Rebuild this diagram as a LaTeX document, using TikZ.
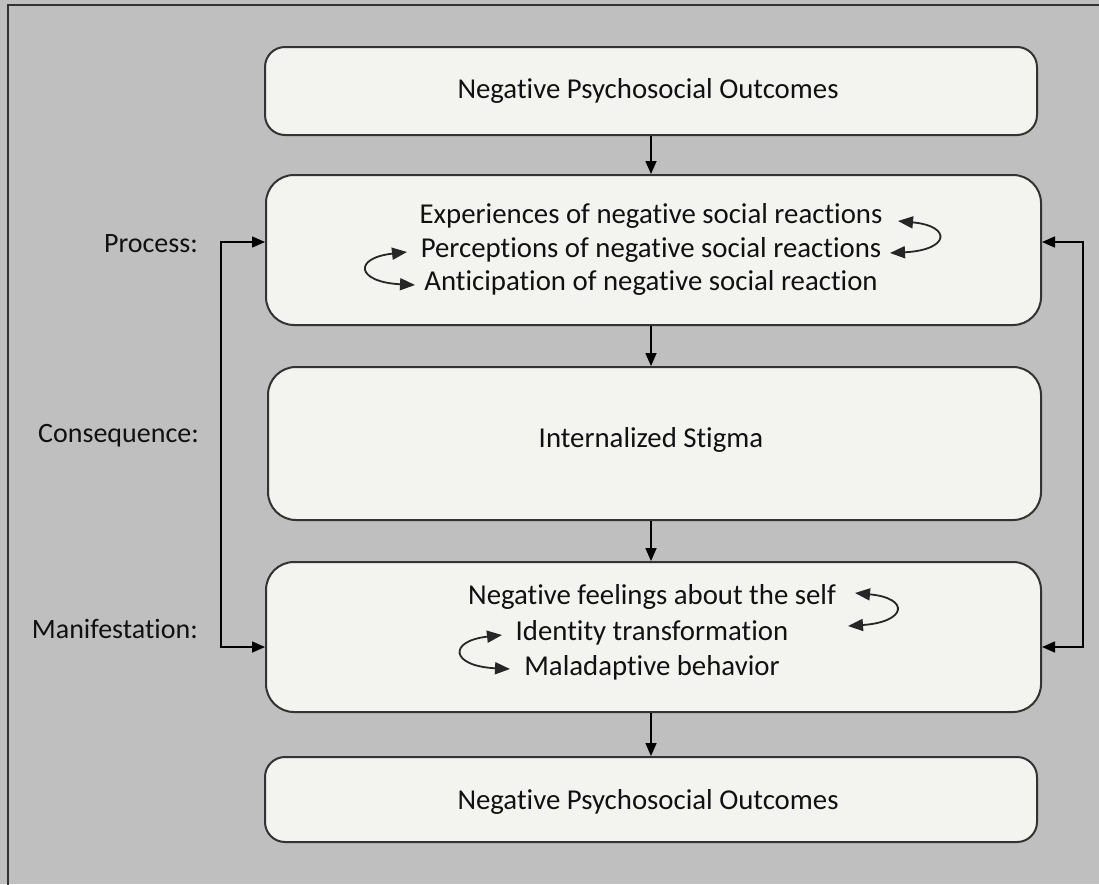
\documentclass[tikz,border=0pt]{standalone}
\usepackage{fontspec}
\setmainfont{Carlito}[RawFeature={-liga;-clig;-dlig}]
\usetikzlibrary{arrows.meta}
\definecolor{bggray}{HTML}{BFBFBF}
\definecolor{boxfill}{HTML}{F3F3F0}
\definecolor{linecol}{HTML}{333333}
\definecolor{txt}{HTML}{111111}
\begin{document}
\begin{tikzpicture}[x=1pt,y=-1pt,
  stagebox/.style={draw=linecol,line width=2pt,fill=boxfill,rounded corners=#1,inner sep=0pt},
  stagebox/.default=28pt,
  txtline/.style={anchor=base,inner sep=0pt,text=txt,font=\fontsize{28.8}{33}\selectfont},
  lbl/.style={anchor=base east,inner sep=0pt,text=txt,font=\fontsize{28}{33}\selectfont},
  arr/.style={draw=black,line width=1.5pt,-{Triangle[length=13pt,width=11pt]}},
  darr/.style={draw=black,line width=1.5pt,{Triangle[length=13pt,width=11pt]}-{Triangle[length=13pt,width=11pt]}},
  curv/.style={draw=black!85,line width=1.8pt,{Triangle[length=15pt,width=12pt]}-{Triangle[length=15pt,width=12pt]}}]
\useasboundingbox (0,0) rectangle (1099,884);
\fill[bggray] (0,0) rectangle (1099,884);
\draw[linecol,line width=2pt] (8,1000) -- (8,5) -- (1200,5);
% boxes
\node[stagebox=20pt,minimum width=772pt,minimum height=88pt] (b1) at (651,91) {};
\node[stagebox,minimum width=775pt,minimum height=150pt] (b2) at (653.5,250) {};
\node[stagebox,minimum width=773pt,minimum height=153pt] (b3) at (654.5,443.5) {};
\node[stagebox,minimum width=775pt,minimum height=150pt] (b4) at (653.5,637) {};
\node[stagebox=20pt,minimum width=772pt,minimum height=85pt] (b5) at (651,799.5) {};
% texts
\node[txtline] (t1) at (648,98) {Negative Psychosocial Outcomes};
\node[txtline] (p1) at (651,223) {Experiences of negative social reactions};
\node[txtline] (p2) at (651,257) {Perceptions of negative social reactions};
\node[txtline] (p3) at (651,290) {Anticipation of negative social reaction};
\node[txtline] (t3) at (651,447) {Internalized Stigma};
\node[txtline] (m1) at (652,604) {Negative feelings about the self};
\node[txtline] (m2) at (652,640) {Identity transformation};
\node[txtline] (m3) at (652,675) {Maladaptive behavior};
\node[txtline] (t5) at (648,809) {Negative Psychosocial Outcomes};
% labels
\node[lbl] (lp) at (198,252) {Process:};
\node[lbl] (lc) at (199,442) {Consequence:};
\node[lbl] (lm) at (198,638) {Manifestation:};
% vertical arrows
\draw[arr] (b1.south) -- (b1.south |- b2.north);
\draw[arr] (b1.south |- b2.south) -- (b1.south |- b3.north);
\draw[arr] (b1.south |- b3.south) -- (b1.south |- b4.north);
\draw[arr] (b1.south |- b4.south) -- (b1.south |- b5.north);
% feedback loops
\coordinate (la) at (221,242);
\coordinate (lb) at (221,647);
\coordinate (ra) at (1083,242);
\coordinate (rb) at (1083,647);
\draw[darr] (la -| b2.west) -- (la) -- (lb) -- (lb -| b4.west);
\draw[darr] (ra -| b2.east) -- (ra) -- (rb) -- (rb -| b4.east);
% curved arrows
\coordinate (c1a) at (898,221);
\coordinate (c1b) at (890,253);
\coordinate (c2a) at (407,252);
\coordinate (c2b) at (415,285);
\coordinate (c3a) at (855,593);
\coordinate (c3b) at (848,626);
\coordinate (c4a) at (502,635);
\coordinate (c4b) at (510,669);
\draw[curv] (c1a) .. controls (952,226) and (950,250) .. (c1b);
\draw[curv] (c2a) .. controls (353,258) and (356,282) .. (c2b);
\draw[curv] (c3a) .. controls (910,598) and (907,622) .. (c3b);
\draw[curv] (c4a) .. controls (448,641) and (450,666) .. (c4b);
\end{tikzpicture}
\end{document}
